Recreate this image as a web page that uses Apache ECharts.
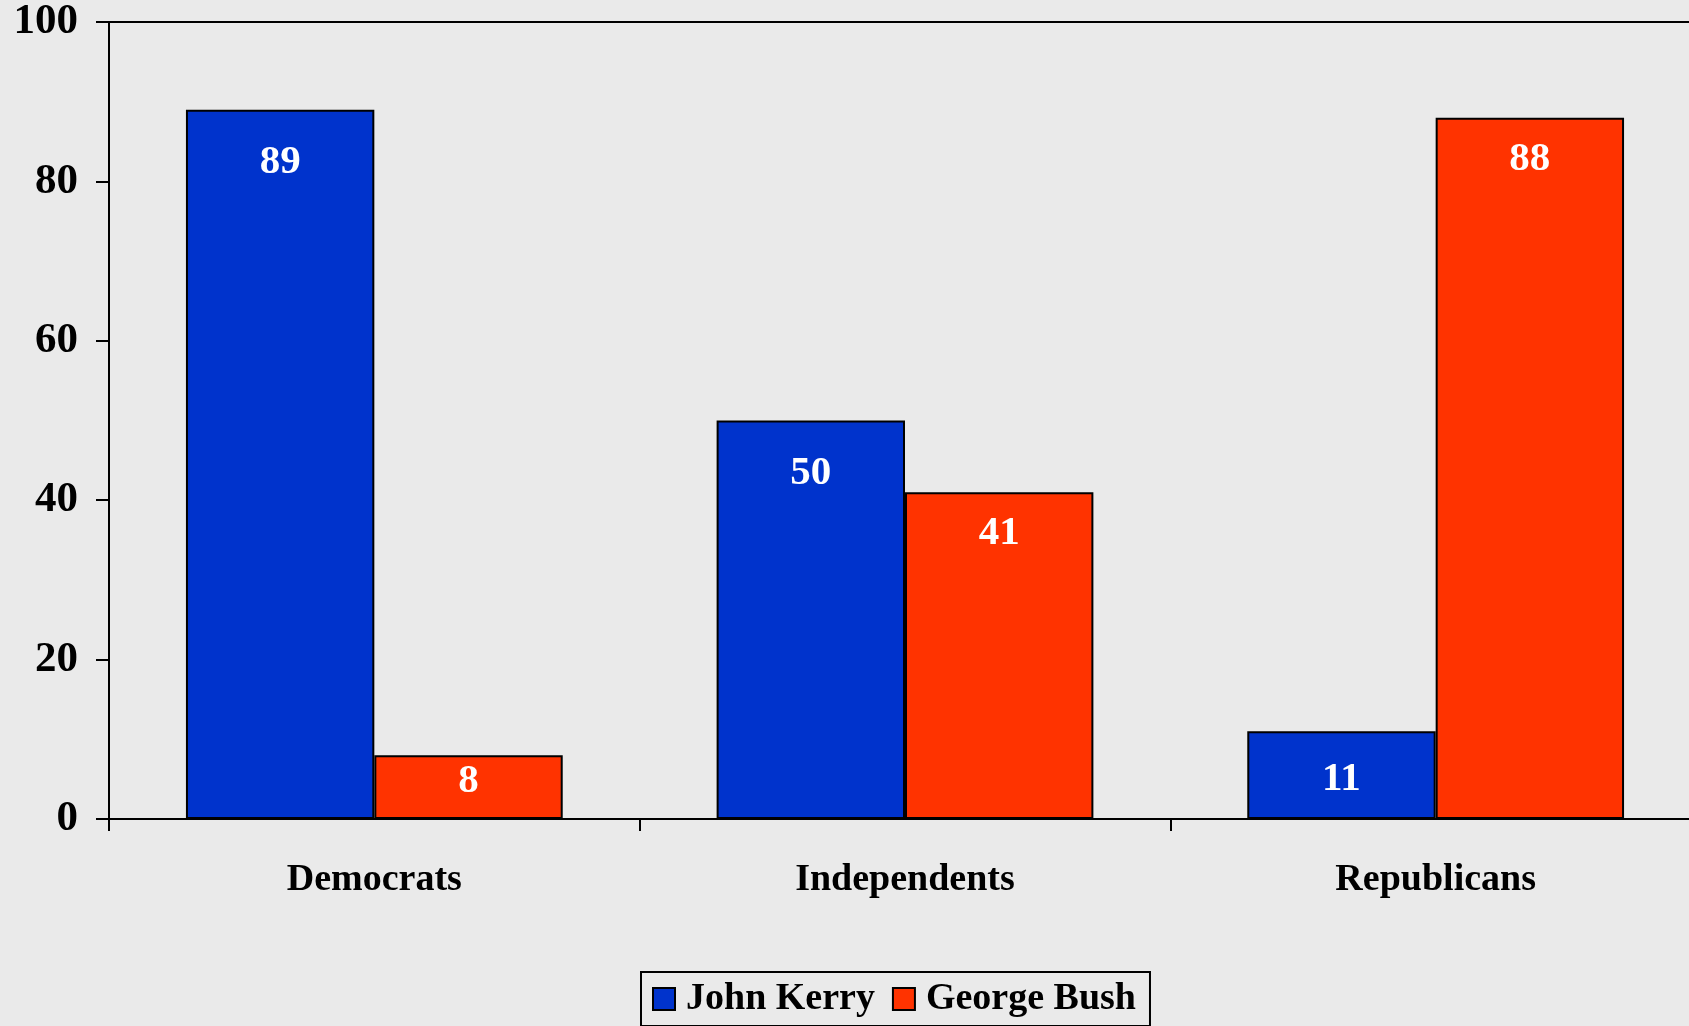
<!DOCTYPE html>
<html>
<head>
<meta charset="utf-8">
<script src="https://cdn.jsdelivr.net/npm/echarts@6/dist/echarts.min.js"></script>
<style>
html,body{margin:0;padding:0;background:#EAEAEA;}
#chart{width:1689px;height:1026px;}
</style>
</head>
<body>
<div id="chart"></div>
<script>
const categories = ['Democrats', 'Independents', 'Republicans'];
const kerryValues = [89, 50, 11];
const bushValues = [8, 41, 88];
const seriesNames = ['John Kerry', 'George Bush'];
const yTicks = [0, 20, 40, 60, 80, 100];

const FONT = '"Liberation Serif", "Times New Roman", serif';
const chart = echarts.init(document.getElementById('chart'));

function labelCfg(dist) {
  return {
    show: true,
    position: 'insideTop',
    distance: dist,
    color: '#FFFFFF',
    fontFamily: FONT,
    fontWeight: 'bold',
    fontSize: 41
  };
}

// short bars get their label nudged up a little, as in the original
function barData(values, dist, shortDist) {
  return values.map(v => ({
    value: v,
    label: labelCfg(v < 15 ? shortDist : dist)
  }));
}

chart.setOption({
  backgroundColor: '#EAEAEA',
  animation: false,
  grid: {
    left: 109,
    top: 22,
    width: 1592,
    bottom: 207,
    outerBoundsMode: 'none',
    containLabel: false,
    show: true,
    borderColor: '#000',
    borderWidth: 2,
    backgroundColor: 'transparent'
  },
  legend: {
    left: 641,
    top: 972,
    orient: 'horizontal',
    data: seriesNames,
    borderColor: '#000',
    borderWidth: 2,
    padding: [8, 14, 8, 11],
    itemWidth: 22,
    itemHeight: 22,
    itemGap: 17,
    icon: 'rect',
    textStyle: {
      fontFamily: FONT,
      fontWeight: 'bold',
      fontSize: 38,
      color: '#000',
      padding: [0, 0, 0, 6]
    }
  },
  xAxis: {
    type: 'category',
    data: categories,
    axisLine: { show: true, lineStyle: { color: '#000', width: 2 } },
    axisTick: { show: true, alignWithLabel: false, length: 12, lineStyle: { color: '#000', width: 2 } },
    axisLabel: {
      margin: 42,
      color: '#000',
      fontFamily: FONT,
      fontWeight: 'bold',
      fontSize: 38
    },
    splitLine: { show: false }
  },
  yAxis: {
    type: 'value',
    min: yTicks[0],
    max: yTicks[yTicks.length - 1],
    interval: yTicks[1] - yTicks[0],
    axisLine: { show: true, lineStyle: { color: '#000', width: 2 } },
    axisTick: { show: true, length: 13, lineStyle: { color: '#000', width: 2 } },
    axisLabel: {
      margin: 31,
      color: '#000',
      fontFamily: FONT,
      fontWeight: 'bold',
      fontSize: 43
    },
    splitLine: { show: false }
  },
  series: [
    {
      name: seriesNames[0],
      type: 'bar',
      data: barData(kerryValues, 32, 28),
      barGap: '0%',
      barCategoryGap: '29%',
      itemStyle: { color: '#0033CC', borderColor: '#000', borderWidth: 2 }
    },
    {
      name: seriesNames[1],
      type: 'bar',
      data: barData(bushValues, 21, 6),
      barGap: '0%',
      barCategoryGap: '29%',
      itemStyle: { color: '#FF3300', borderColor: '#000', borderWidth: 2 }
    }
  ]
});
</script>
</body>
</html>
